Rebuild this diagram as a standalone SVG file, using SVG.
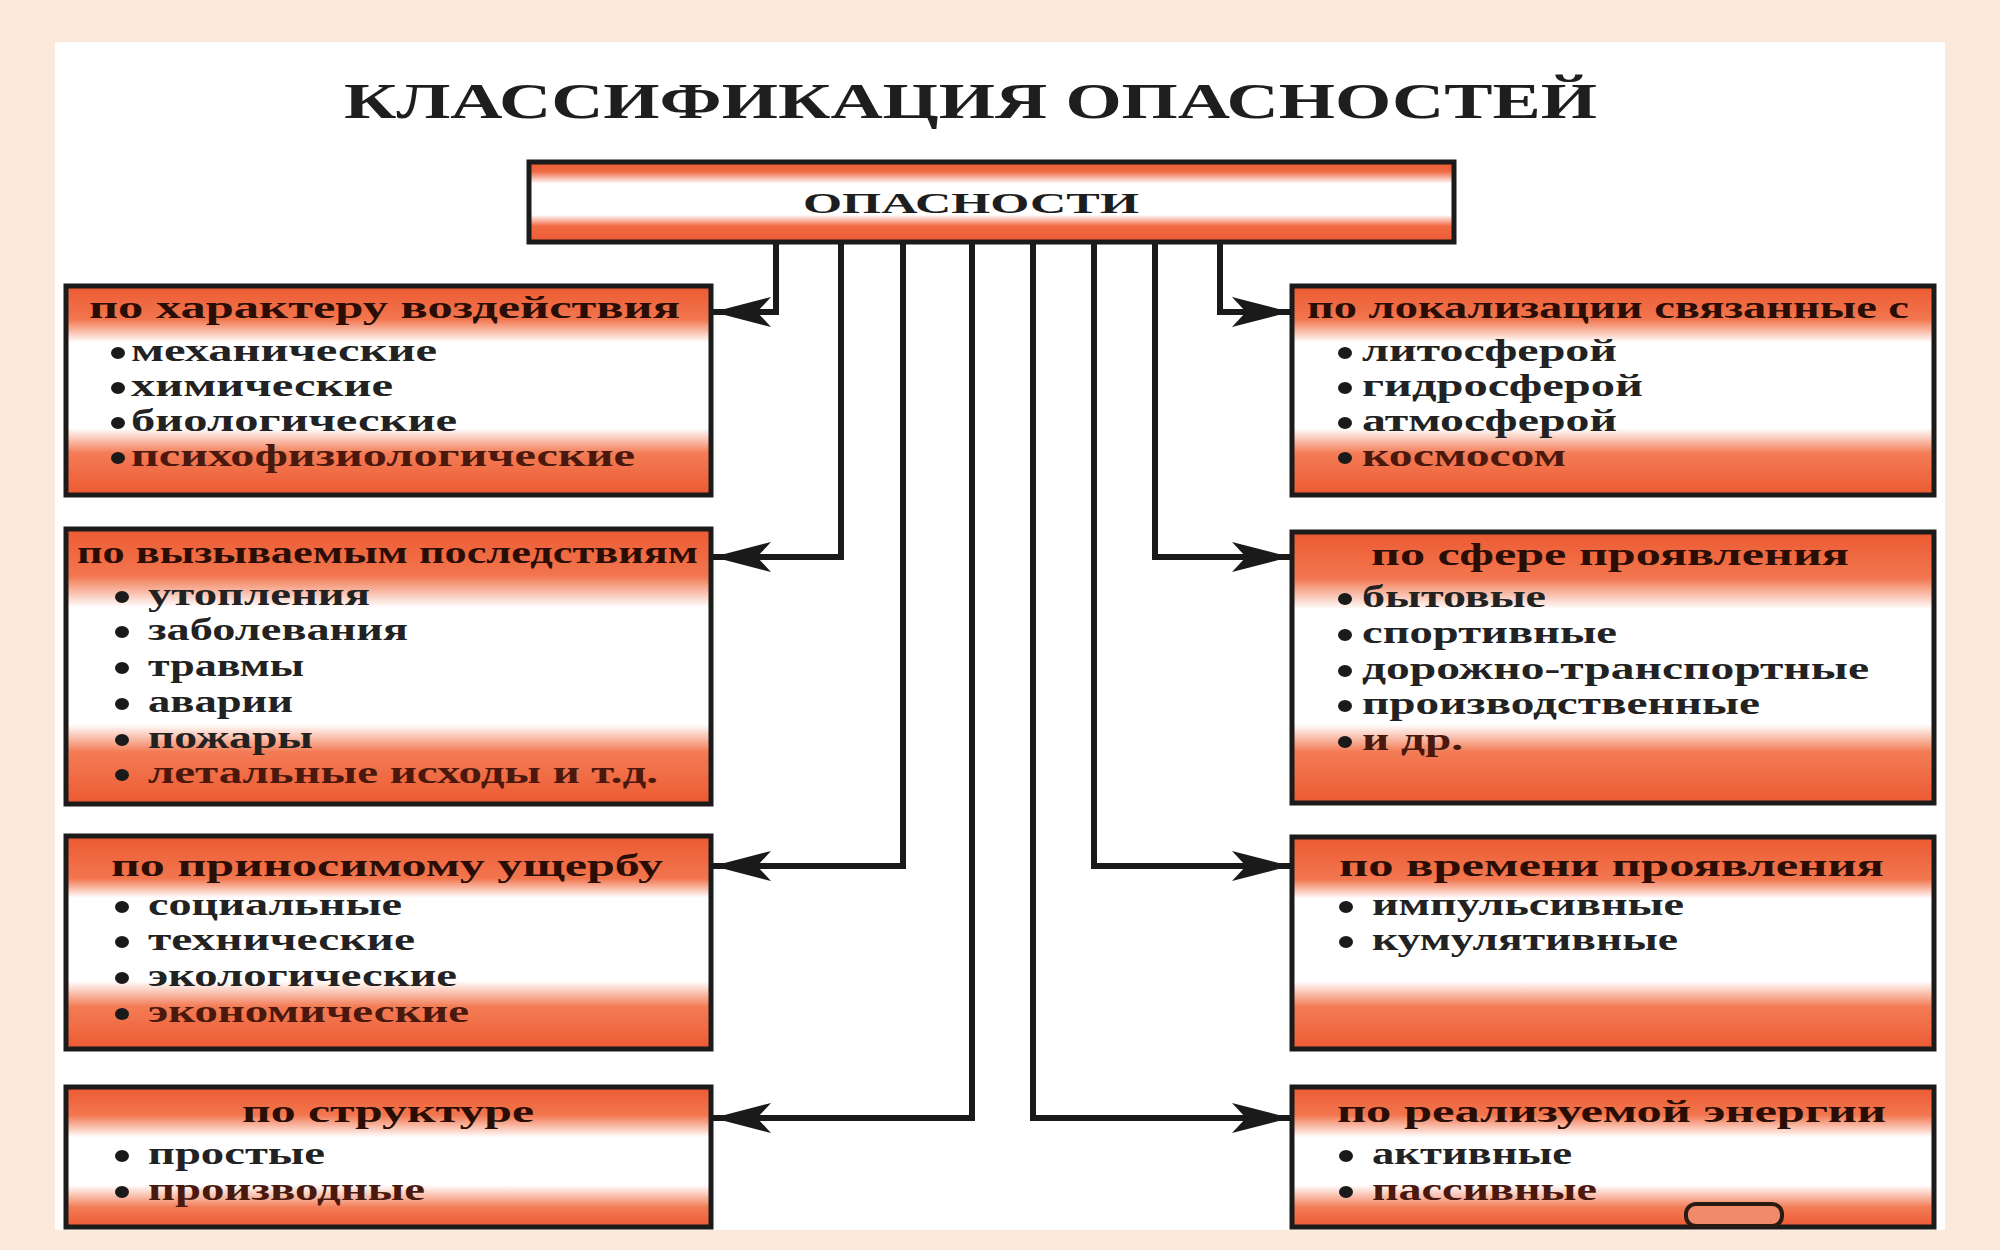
<svg xmlns="http://www.w3.org/2000/svg" width="2000" height="1250" viewBox="0 0 2000 1250">
<defs>
<style>
.box{stroke:#1b1b1b;stroke-width:5}
.hd{font-family:"Liberation Serif","DejaVu Serif",serif;font-weight:bold;font-size:31px;fill:#2a0d05}
.it{font-family:"Liberation Serif","DejaVu Serif",serif;font-weight:bold;font-size:32px;fill:#222222}
.lo{fill:#4a180c}
.bl{fill:#1a1a1a}
.cn{fill:none;stroke:#1a1a1a;stroke-width:6;marker-end:url(#ah)}
</style>
<marker id="ah" viewBox="0 0 58 30" refX="58" refY="15" markerWidth="58" markerHeight="30" markerUnits="userSpaceOnUse" orient="auto">
<path d="M0,0 L58,15 L0,30 L14,15 Z" fill="#1a1a1a"/>
</marker>
<linearGradient id="g0" x1="0" y1="0" x2="0" y2="1">
<stop offset="0" stop-color="#EC5A32"/><stop offset="0.12" stop-color="#F06A44"/><stop offset="0.27" stop-color="#FFFFFF"/><stop offset="0.66" stop-color="#FFFFFF"/><stop offset="0.8" stop-color="#F06A44"/><stop offset="1" stop-color="#EC5A32"/>
</linearGradient>
<linearGradient id="g1" x1="0" y1="0" x2="0" y2="1">
<stop offset="0" stop-color="#EC5A32"/><stop offset="0.16" stop-color="#F2764F"/><stop offset="0.27" stop-color="#FFFFFF"/><stop offset="0.68" stop-color="#FFFFFF"/><stop offset="0.8" stop-color="#F37C56"/><stop offset="1" stop-color="#EC5A32"/>
</linearGradient>
<linearGradient id="g2" x1="0" y1="0" x2="0" y2="1">
<stop offset="0" stop-color="#EC5A32"/><stop offset="0.17" stop-color="#F2764F"/><stop offset="0.285" stop-color="#FFFFFF"/><stop offset="0.71" stop-color="#FFFFFF"/><stop offset="0.81" stop-color="#F37C56"/><stop offset="1" stop-color="#EC5A32"/>
</linearGradient>
<linearGradient id="g3" x1="0" y1="0" x2="0" y2="1">
<stop offset="0" stop-color="#EC5A32"/><stop offset="0.2" stop-color="#F2764F"/><stop offset="0.29" stop-color="#FFFFFF"/><stop offset="0.68" stop-color="#FFFFFF"/><stop offset="0.8" stop-color="#F37C56"/><stop offset="1" stop-color="#EC5A32"/>
</linearGradient>
<linearGradient id="g4" x1="0" y1="0" x2="0" y2="1">
<stop offset="0" stop-color="#EC5A32"/><stop offset="0.2" stop-color="#F2764F"/><stop offset="0.36" stop-color="#FFFFFF"/><stop offset="0.7" stop-color="#FFFFFF"/><stop offset="0.86" stop-color="#F37C56"/><stop offset="1" stop-color="#EC5A32"/>
</linearGradient>
</defs>

<rect x="0" y="0" width="2000" height="1250" fill="#FBEADB"/>
<rect x="55" y="42" width="1890" height="1188" fill="#FFFFFF"/>

<text x="344" y="118" textLength="1253" lengthAdjust="spacingAndGlyphs" style="font-family:'Liberation Serif','DejaVu Serif',serif;font-weight:bold;font-size:50px;fill:#1e1e1e">КЛАССИФИКАЦИЯ ОПАСНОСТЕЙ</text>

<g id="connectors">
<path class="cn" d="M776,242 V312 H713"/>
<path class="cn" d="M841,242 V557 H713"/>
<path class="cn" d="M903,242 V866 H713"/>
<path class="cn" d="M972,242 V1118 H713"/>
<path class="cn" d="M1033,242 V1118 H1290"/>
<path class="cn" d="M1094,242 V866 H1290"/>
<path class="cn" d="M1155,242 V557 H1290"/>
<path class="cn" d="M1220,242 V312 H1290"/>
</g>

<g id="root">
<rect class="box" x="529" y="162" width="925" height="80" fill="url(#g0)"/>
<text x="803" y="213" textLength="336" lengthAdjust="spacingAndGlyphs" style="font-family:'Liberation Serif','DejaVu Serif',serif;font-weight:bold;font-size:30px;fill:#1e1e1e">ОПАСНОСТИ</text>
</g>

<g id="left1">
<rect class="box" x="66" y="286" width="645" height="209" fill="url(#g1)"/>
<text class="hd" x="89" y="318" textLength="591" lengthAdjust="spacingAndGlyphs">по характеру воздействия</text>
<ellipse class="bl" cx="118" cy="353" rx="7" ry="6"/><text class="it" x="131" y="361" textLength="306" lengthAdjust="spacingAndGlyphs">механические</text>
<ellipse class="bl" cx="118" cy="388" rx="7" ry="6"/><text class="it" x="131" y="396" textLength="262" lengthAdjust="spacingAndGlyphs">химические</text>
<ellipse class="bl" cx="118" cy="423" rx="7" ry="6"/><text class="it" x="131" y="431" textLength="326" lengthAdjust="spacingAndGlyphs">биологические</text>
<ellipse class="bl" cx="118" cy="458" rx="7" ry="6"/><text class="it lo" x="131" y="466" textLength="504" lengthAdjust="spacingAndGlyphs">психофизиологические</text>
</g>

<g id="left2">
<rect class="box" x="66" y="529" width="645" height="275" fill="url(#g2)"/>
<text class="hd" x="77" y="563" textLength="621" lengthAdjust="spacingAndGlyphs">по вызываемым последствиям</text>
<ellipse class="bl" cx="122" cy="597" rx="7" ry="6"/><text class="it" x="148" y="605" textLength="222" lengthAdjust="spacingAndGlyphs">утопления</text>
<ellipse class="bl" cx="122" cy="632" rx="7" ry="6"/><text class="it" x="148" y="640" textLength="260" lengthAdjust="spacingAndGlyphs">заболевания</text>
<ellipse class="bl" cx="122" cy="668" rx="7" ry="6"/><text class="it" x="148" y="676" textLength="156" lengthAdjust="spacingAndGlyphs">травмы</text>
<ellipse class="bl" cx="122" cy="704" rx="7" ry="6"/><text class="it" x="148" y="712" textLength="145" lengthAdjust="spacingAndGlyphs">аварии</text>
<ellipse class="bl" cx="122" cy="740" rx="7" ry="6"/><text class="it" x="148" y="748" textLength="165" lengthAdjust="spacingAndGlyphs">пожары</text>
<ellipse class="bl" cx="122" cy="775" rx="7" ry="6"/><text class="it lo" x="148" y="783" textLength="510" lengthAdjust="spacingAndGlyphs">летальные исходы и т.д.</text>
</g>

<g id="left3">
<rect class="box" x="66" y="836" width="645" height="213" fill="url(#g3)"/>
<text class="hd" x="111" y="876" textLength="552" lengthAdjust="spacingAndGlyphs">по приносимому ущербу</text>
<ellipse class="bl" cx="122" cy="907" rx="7" ry="6"/><text class="it" x="148" y="915" textLength="254" lengthAdjust="spacingAndGlyphs">социальные</text>
<ellipse class="bl" cx="122" cy="942" rx="7" ry="6"/><text class="it" x="148" y="950" textLength="267" lengthAdjust="spacingAndGlyphs">технические</text>
<ellipse class="bl" cx="122" cy="978" rx="7" ry="6"/><text class="it" x="148" y="986" textLength="309" lengthAdjust="spacingAndGlyphs">экологические</text>
<ellipse class="bl" cx="122" cy="1014" rx="7" ry="6"/><text class="it lo" x="148" y="1022" textLength="321" lengthAdjust="spacingAndGlyphs">экономические</text>
</g>

<g id="left4">
<rect class="box" x="66" y="1087" width="645" height="140" fill="url(#g4)"/>
<text class="hd" x="242" y="1122" textLength="292" lengthAdjust="spacingAndGlyphs">по структуре</text>
<ellipse class="bl" cx="122" cy="1156" rx="7" ry="6"/><text class="it" x="148" y="1164" textLength="177" lengthAdjust="spacingAndGlyphs">простые</text>
<ellipse class="bl" cx="122" cy="1192" rx="7" ry="6"/><text class="it lo" x="148" y="1200" textLength="277" lengthAdjust="spacingAndGlyphs">производные</text>
</g>

<g id="right1">
<rect class="box" x="1292" y="286" width="642" height="209" fill="url(#g1)"/>
<text class="hd" x="1307" y="318" textLength="602" lengthAdjust="spacingAndGlyphs">по локализации связанные с</text>
<ellipse class="bl" cx="1345" cy="353" rx="7" ry="6"/><text class="it" x="1362" y="361" textLength="255" lengthAdjust="spacingAndGlyphs">литосферой</text>
<ellipse class="bl" cx="1345" cy="388" rx="7" ry="6"/><text class="it" x="1362" y="396" textLength="281" lengthAdjust="spacingAndGlyphs">гидросферой</text>
<ellipse class="bl" cx="1345" cy="423" rx="7" ry="6"/><text class="it" x="1362" y="431" textLength="255" lengthAdjust="spacingAndGlyphs">атмосферой</text>
<ellipse class="bl" cx="1345" cy="458" rx="7" ry="6"/><text class="it lo" x="1362" y="466" textLength="204" lengthAdjust="spacingAndGlyphs">космосом</text>
</g>

<g id="right2">
<rect class="box" x="1292" y="532" width="642" height="271" fill="url(#g2)"/>
<text class="hd" x="1371" y="565" textLength="478" lengthAdjust="spacingAndGlyphs">по сфере проявления</text>
<ellipse class="bl" cx="1345" cy="599" rx="7" ry="6"/><text class="it" x="1362" y="607" textLength="184" lengthAdjust="spacingAndGlyphs">бытовые</text>
<ellipse class="bl" cx="1345" cy="635" rx="7" ry="6"/><text class="it" x="1362" y="643" textLength="255" lengthAdjust="spacingAndGlyphs">спортивные</text>
<ellipse class="bl" cx="1345" cy="671" rx="7" ry="6"/><text class="it" x="1362" y="679" textLength="507" lengthAdjust="spacingAndGlyphs">дорожно-транспортные</text>
<ellipse class="bl" cx="1345" cy="706" rx="7" ry="6"/><text class="it" x="1362" y="714" textLength="398" lengthAdjust="spacingAndGlyphs">производственные</text>
<ellipse class="bl" cx="1345" cy="742" rx="7" ry="6"/><text class="it lo" x="1362" y="750" textLength="101" lengthAdjust="spacingAndGlyphs">и др.</text>
</g>

<g id="right3">
<rect class="box" x="1292" y="837" width="642" height="212" fill="url(#g3)"/>
<text class="hd" x="1339" y="876" textLength="545" lengthAdjust="spacingAndGlyphs">по времени проявления</text>
<ellipse class="bl" cx="1346" cy="907" rx="7" ry="6"/><text class="it" x="1372" y="915" textLength="312" lengthAdjust="spacingAndGlyphs">импульсивные</text>
<ellipse class="bl" cx="1346" cy="942" rx="7" ry="6"/><text class="it" x="1372" y="950" textLength="306" lengthAdjust="spacingAndGlyphs">кумулятивные</text>
</g>

<g id="right4">
<rect class="box" x="1292" y="1087" width="642" height="140" fill="url(#g4)"/>
<text class="hd" x="1337" y="1122" textLength="549" lengthAdjust="spacingAndGlyphs">по реализуемой энергии</text>
<ellipse class="bl" cx="1346" cy="1156" rx="7" ry="6"/><text class="it" x="1372" y="1164" textLength="200" lengthAdjust="spacingAndGlyphs">активные</text>
<ellipse class="bl" cx="1346" cy="1192" rx="7" ry="6"/><text class="it lo" x="1372" y="1200" textLength="225" lengthAdjust="spacingAndGlyphs">пассивные</text>
</g>

<g id="logo-fragment">
<rect x="1686" y="1204" width="96" height="22" rx="10" fill="#F08A68" stroke="#2a1a14" stroke-width="4"/>
</g>
</svg>
